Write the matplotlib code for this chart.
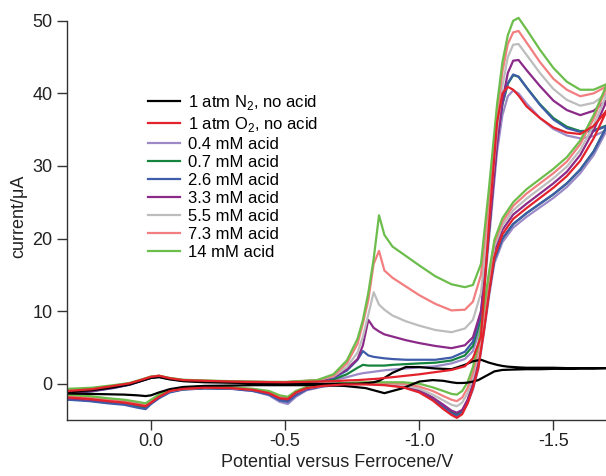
import matplotlib
matplotlib.use('Agg')
import matplotlib.pyplot as plt

plt.rcParams['font.family'] = ['Liberation Sans', 'DejaVu Sans']
plt.rcParams['axes.unicode_minus'] = False
plt.rcParams['mathtext.fontset'] = 'custom'
plt.rcParams['mathtext.rm'] = 'Liberation Sans'

# potential grid, forward (cathodic) sweep and return sweep, V vs Fc
pot_fwd = [0.31, 0.22, 0.14, 0.08, 0.03, 0.0, -0.03, -0.07, -0.12, -0.2, -0.35, -0.5,
           -0.62, -0.68, -0.73, -0.77, -0.79, -0.81, -0.83, -0.85, -0.87, -0.9, -0.95, -1.0,
           -1.06, -1.12, -1.17, -1.2, -1.23, -1.26, -1.29, -1.31, -1.33, -1.35, -1.37, -1.4,
           -1.45, -1.5, -1.55, -1.6, -1.65, -1.7]
pot_rev = [-1.7, -1.65, -1.6, -1.55, -1.5, -1.45, -1.4, -1.35, -1.31, -1.28, -1.26, -1.24,
           -1.22, -1.2, -1.18, -1.16, -1.14, -1.12, -1.09, -1.05, -1.0, -0.94, -0.87, -0.8,
           -0.72, -0.64, -0.58, -0.54, -0.51, -0.48, -0.44, -0.38, -0.3, -0.2, -0.12, -0.07,
           -0.03, 0.0, 0.02, 0.05, 0.1, 0.16, 0.23, 0.31]

# currents (uA)
n2_fwd = [-1.1, -0.9, -0.5, -0.1, 0.45, 0.8, 0.9, 0.6, 0.35, 0.2, 0.1, 0.0,
          0.0, 0.0, 0.0, 0.0, 0.05, 0.1, 0.2, 0.4, 0.8, 1.5, 2.3, 2.3,
          2.1, 2.0, 2.6, 3.1, 3.3, 2.9, 2.6, 2.45, 2.35, 2.3, 2.25, 2.2,
          2.2, 2.2, 2.15, 2.15, 2.15, 2.15]
n2_rev = [2.15, 2.1, 2.1, 2.05, 2.05, 2.0, 2.0, 1.95, 1.9, 1.7, 1.3, 0.9,
          0.5, 0.3, 0.15, 0.1, 0.1, 0.2, 0.4, 0.5, 0.3, -0.6, -1.3, -0.6,
          -0.3, -0.2, -0.2, -0.2, -0.2, -0.2, -0.2, -0.2, -0.25, -0.3, -0.45, -0.75,
          -1.2, -1.6, -1.7, -1.6, -1.5, -1.45, -1.4, -1.35]

o2_fwd = [-1.0, -0.75, -0.3, 0.05, 0.6, 0.95, 1.1, 0.75, 0.5, 0.4, 0.25, 0.2,
          0.3, 0.35, 0.45, 0.5, 0.55, 0.6, 0.65, 0.7, 0.8, 0.9, 1.1, 1.3,
          1.6, 1.9, 2.4, 3.5, 6.5, 22.0, 36.0, 40.0, 40.9, 40.5, 39.7, 38.2,
          36.6, 35.3, 34.6, 34.4, 35.5, 37.7]
o2_rev = [37.7, 33.8, 30.7, 28.6, 27.0, 25.6, 24.2, 22.7, 20.6, 17.5, 12.5, 7.0,
          2.2, -0.6, -2.7, -4.2, -4.7, -4.3, -3.5, -2.3, -1.2, -0.5, -0.2, -0.1,
          -0.1, -0.3, -0.6, -1.2, -2.1, -2.0, -1.3, -0.85, -0.6, -0.55, -0.7, -1.0,
          -1.8, -2.6, -3.1, -2.9, -2.6, -2.4, -2.1, -1.9]

a04_fwd = [-1.2, -0.95, -0.5, -0.1, 0.5, 0.85, 1.0, 0.7, 0.45, 0.35, 0.25, 0.2,
           0.3, 0.5, 0.9, 1.3, 1.45, 1.55, 1.65, 1.75, 1.85, 1.95, 2.1, 2.25,
           2.4, 2.8, 3.4, 4.5, 8.0, 20.0, 32.0, 37.0, 39.6, 40.4, 40.0, 38.6,
           36.6, 35.1, 34.2, 33.8, 34.1, 35.0]
a04_rev = [35.0, 31.5, 29.0, 27.1, 25.6, 24.3, 23.0, 21.5, 19.5, 16.6, 12.0, 6.8,
           2.0, -0.8, -2.7, -4.0, -4.5, -4.2, -3.4, -2.2, -1.1, -0.4, -0.1, 0.0,
           -0.1, -0.4, -0.9, -1.8, -2.8, -2.5, -1.6, -1.0, -0.7, -0.65, -0.8, -1.1,
           -1.9, -2.7, -3.3, -3.1, -2.8, -2.6, -2.3, -2.1]

a07_fwd = [-1.1, -0.9, -0.45, -0.05, 0.55, 0.9, 1.0, 0.7, 0.45, 0.35, 0.25, 0.2,
           0.35, 0.6, 1.3, 2.2, 2.6, 2.5, 2.5, 2.5, 2.5, 2.6, 2.7, 2.8,
           2.9, 3.2, 3.9, 5.2, 9.0, 21.0, 33.5, 38.5, 41.3, 42.5, 42.3, 40.8,
           38.5, 36.6, 35.4, 34.8, 34.9, 35.6]
a07_rev = [35.6, 32.0, 29.5, 27.6, 26.1, 24.8, 23.5, 22.0, 20.0, 17.2, 12.8, 7.6,
           2.8, -0.3, -2.4, -3.8, -4.2, -3.9, -3.1, -2.0, -0.9, -0.3, 0.0, 0.1,
           0.0, -0.3, -0.7, -1.4, -2.3, -2.1, -1.4, -0.9, -0.65, -0.6, -0.75, -1.1,
           -1.9, -2.7, -3.3, -3.1, -2.8, -2.6, -2.3, -2.1]

a26_fwd = [-1.3, -1.05, -0.6, -0.15, 0.45, 0.8, 0.95, 0.65, 0.4, 0.3, 0.2, 0.15,
           0.4, 0.8, 1.8, 3.3, 4.5, 3.9, 3.7, 3.6, 3.5, 3.4, 3.3, 3.3,
           3.3, 3.6, 4.4, 5.8, 9.5, 21.5, 33.5, 38.6, 41.4, 42.6, 42.3, 40.8,
           38.4, 36.4, 35.2, 34.7, 34.8, 35.5]
a26_rev = [35.5, 32.0, 29.5, 27.6, 26.1, 24.8, 23.5, 22.0, 20.0, 17.1, 12.6, 7.4,
           2.6, -0.5, -2.6, -4.0, -4.4, -4.1, -3.2, -2.1, -1.0, -0.35, -0.05, 0.05,
           -0.05, -0.35, -0.8, -1.6, -2.5, -2.3, -1.5, -1.0, -0.7, -0.65, -0.8, -1.2,
           -2.0, -2.8, -3.5, -3.3, -2.9, -2.7, -2.4, -2.2]

a33_fwd = [-1.2, -1.0, -0.55, -0.1, 0.5, 0.85, 1.0, 0.7, 0.45, 0.35, 0.25, 0.2,
           0.4, 0.9, 2.0, 3.4, 5.3, 8.8, 7.7, 7.2, 6.8, 6.5, 6.0, 5.6,
           5.2, 4.9, 5.3, 6.4, 10.0, 21.0, 33.0, 39.0, 42.8, 44.5, 44.6, 43.2,
           41.0, 39.0, 37.7, 37.0, 37.6, 39.1]
a33_rev = [39.1, 34.9, 31.5, 29.2, 27.6, 26.2, 24.8, 23.3, 21.2, 18.3, 13.6, 8.2,
           3.3, 0.0, -2.2, -3.6, -4.0, -3.7, -2.9, -1.9, -0.9, -0.3, 0.0, 0.1,
           0.0, -0.3, -0.7, -1.3, -2.2, -2.0, -1.3, -0.85, -0.6, -0.55, -0.7, -1.0,
           -1.8, -2.6, -3.1, -2.9, -2.6, -2.4, -2.2, -2.0]

a55_fwd = [-1.0, -0.8, -0.4, 0.0, 0.55, 0.9, 1.05, 0.7, 0.45, 0.35, 0.25, 0.2,
           0.5, 1.0, 2.3, 4.3, 6.5, 9.5, 12.6, 10.9, 10.2, 9.4, 8.6, 8.0,
           7.4, 7.1, 7.6, 8.8, 12.5, 23.0, 35.0, 41.0, 45.0, 46.7, 46.8, 45.3,
           42.8, 40.6, 39.1, 38.3, 38.7, 40.0]
a55_rev = [40.0, 35.6, 32.2, 29.9, 28.3, 26.9, 25.5, 23.9, 21.8, 18.9, 14.2, 8.8,
           4.0, 0.9, -1.3, -2.6, -3.1, -2.9, -2.3, -1.5, -0.7, -0.2, 0.05, 0.1,
           0.0, -0.3, -0.6, -1.2, -2.0, -1.8, -1.2, -0.8, -0.6, -0.55, -0.7, -1.0,
           -1.7, -2.5, -3.0, -2.8, -2.5, -2.3, -2.0, -1.8]

a73_fwd = [-0.9, -0.7, -0.3, 0.05, 0.6, 0.95, 1.1, 0.75, 0.5, 0.4, 0.25, 0.2,
           0.5, 1.1, 2.8, 5.5, 8.3, 11.5, 16.5, 18.3, 15.6, 14.6, 13.4, 12.2,
           11.0, 10.1, 10.2, 11.3, 15.0, 25.5, 37.0, 43.0, 46.8, 48.4, 48.6, 47.0,
           44.3, 42.0, 40.5, 39.6, 40.0, 41.0]
a73_rev = [41.0, 36.5, 33.0, 30.6, 29.0, 27.6, 26.2, 24.5, 22.3, 19.4, 14.8, 9.4,
           4.6, 1.5, -0.6, -1.9, -2.4, -2.2, -1.7, -1.0, -0.4, 0.0, 0.1, 0.15,
           0.05, -0.2, -0.55, -1.1, -1.9, -1.7, -1.1, -0.75, -0.55, -0.5, -0.65, -0.95,
           -1.6, -2.4, -2.9, -2.7, -2.4, -2.2, -1.9, -1.7]

a14_fwd = [-0.7, -0.55, -0.2, 0.1, 0.65, 1.0, 1.1, 0.8, 0.55, 0.45, 0.3, 0.25,
           0.5, 1.3, 3.2, 6.2, 8.8, 12.5, 17.2, 23.2, 20.5, 18.9, 17.6, 16.3,
           14.8, 13.7, 13.3, 13.6, 16.5, 27.0, 38.5, 44.3, 48.0, 50.0, 50.4, 48.8,
           46.0, 43.5, 41.6, 40.5, 40.5, 41.3]
a14_rev = [41.3, 37.0, 33.5, 31.2, 29.6, 28.2, 26.8, 25.0, 22.8, 19.8, 15.4, 10.2,
           5.4, 2.3, 0.2, -1.0, -1.5, -1.4, -1.0, -0.5, 0.0, 0.2, 0.2, 0.2,
           0.1, -0.1, -0.45, -1.0, -1.8, -1.6, -1.0, -0.7, -0.5, -0.45, -0.6, -0.9,
           -1.5, -2.2, -2.7, -2.5, -2.2, -2.0, -1.7, -1.5]

labels = ['1 atm N$_2$, no acid', '1 atm O$_2$, no acid', '0.4 mM acid', '0.7 mM acid',
          '2.6 mM acid', '3.3 mM acid', '5.5 mM acid', '7.3 mM acid', '14 mM acid']
colors = ['#000000', '#e3222c', '#9c8ac8', '#16843f', '#3e5ca8', '#8b2a88',
          '#bdbdbd', '#f27e80', '#6cbd4b']
fwd = [n2_fwd, o2_fwd, a04_fwd, a07_fwd, a26_fwd, a33_fwd, a55_fwd, a73_fwd, a14_fwd]
rev = [n2_rev, o2_rev, a04_rev, a07_rev, a26_rev, a33_rev, a55_rev, a73_rev, a14_rev]

fig = plt.figure(figsize=(6.06, 4.76), dpi=100)
ax = fig.add_axes([0.111, 0.1176, 0.889, 0.854])

# draw the acid series first, then N2 and O2 on top
draw_order = [2, 3, 4, 5, 6, 7, 8, 0, 1]
handles = [None] * 9
for k in draw_order:
    line, = ax.plot(pot_fwd + pot_rev, fwd[k] + rev[k], color=colors[k], lw=1.6,
                    solid_joinstyle='round', label=labels[k])
    handles[k] = line

ax.set_xlim(0.312, -1.696)
ax.set_ylim(-5, 51)
ax.set_xticks([0.0, -0.5, -1.0, -1.5])
ax.set_xticklabels(['0.0', '-0.5', '-1.0', '-1.5'])
ax.set_yticks([0, 10, 20, 30, 40, 50])
ax.spines['top'].set_visible(False)
ax.spines['right'].set_visible(False)
ax.spines['left'].set_bounds(-5, 50)
for s in ['left', 'bottom']:
    ax.spines[s].set_color('#333333')
    ax.spines[s].set_linewidth(1.0)
ax.tick_params(direction='out', length=7, width=1, color='#333333', labelsize=13,
               labelcolor='#222222', pad=3.5)
ax.tick_params(axis='x', pad=2.5)

ax.set_xlabel('Potential versus Ferrocene/V', fontsize=13, color='#222222', labelpad=3)
ax.set_ylabel('current/\u03bcA', fontsize=13, color='#222222', labelpad=4)

ax.legend(handles=handles, loc='upper left', bbox_to_anchor=(0.15, 0.805), frameon=False,
          fontsize=12, handlelength=1.9, handletextpad=0.5, labelspacing=0.18,
          borderpad=0, borderaxespad=0)

plt.savefig('out.png', dpi=100)
